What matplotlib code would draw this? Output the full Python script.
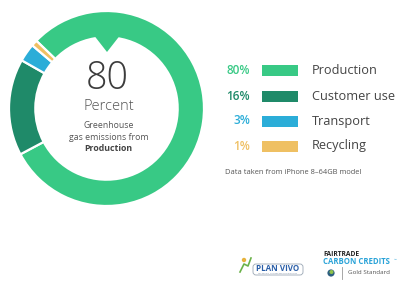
#!/usr/bin/env python3
"""Donut chart: greenhouse gas emissions of an iPhone 8 by life-cycle stage."""

import matplotlib
matplotlib.use('Agg')
import matplotlib.pyplot as plt
from matplotlib.patches import Polygon, Rectangle, FancyBboxPatch, Circle

plt.rcParams['font.family'] = ['Open Sans', 'DejaVu Sans']

# ---------------------------------------------------------------------------
# Data
# ---------------------------------------------------------------------------
stages = ['Production', 'Customer use', 'Transport', 'Recycling']
shares = [80, 16, 3, 1]
colors = ['#38C985', '#1F8A69', '#2BADD8', '#EFC063']
pct_labels = ['80%', '16%', '3%', '1%']

# ---------------------------------------------------------------------------
# Plot (axes in pixel units, origin bottom-left)
# ---------------------------------------------------------------------------
W, H = 398, 285
fig = plt.figure(figsize=(W / 100, H / 100), dpi=100)
ax = fig.add_axes([0, 0, 1, 1])

cx, cy, r = 106.5, H - 108.5, 97.5
ax.pie(shares, colors=colors, startangle=136, counterclock=False,
       center=(cx, cy), radius=r,
       wedgeprops=dict(width=r * 0.27, edgecolor='white', linewidth=1.6))

# small pointer notch on the inner edge of the ring
ax.add_patch(Polygon([(cx - 12, H - 36), (cx + 13, H - 36), (cx + 0.5, H - 52)],
                     closed=True, facecolor=colors[0], edgecolor='none', zorder=3))

# centre text
ax.text(cx + 0.5, H - 79, '80', ha='center', va='center', fontsize=27,
        fontweight='light', color='#3c3c3c')
ax.text(cx + 2, H - 107, 'Percent', ha='center', va='center', fontsize=10.5,
        fontweight='light', color='#555555')
ax.text(cx + 2, H - 125, 'Greenhouse', ha='center', va='center', fontsize=6.3,
        color='#555555')
ax.text(cx + 2, H - 137, 'gas emissions from', ha='center', va='center',
        fontsize=6.3, color='#555555')
ax.text(cx + 2, H - 148.5, 'Production', ha='center', va='center', fontsize=6.3,
        fontweight='bold', color='#444444')

# legend
row_y = [70, 96, 121, 146]
for y, lab, pct, col in zip(row_y, stages, pct_labels, colors):
    ax.text(250, H - y, pct, ha='right', va='center', fontsize=8.5,
            fontweight='semibold', color=col)
    ax.add_patch(Rectangle((262, H - y - 5.5), 36, 11, facecolor=col,
                           edgecolor='none'))
    ax.text(312, H - y, lab, ha='left', va='center', fontsize=9.2,
            color='#444444')

ax.text(225, H - 172, 'Data taken from iPhone 8\u201364GB model', ha='left',
        va='center', fontsize=5.4, color='#555555')

# logos (text only)
ax.add_patch(FancyBboxPatch((253, H - 275), 50, 11,
                            boxstyle='round,pad=0,rounding_size=3',
                            facecolor='white', edgecolor='#9aa6b4', linewidth=0.6))
ax.text(278, H - 268.5, 'PLAN VIVO', ha='center', va='center', fontsize=5.8,
        fontweight='bold', color='#2a5ea8')
ax.text(278, H - 273, 'for people, climate and communities', ha='center',
        va='center', fontsize=1.6, color='#7a8aa0')
ax.plot([240, 244, 248, 251], [H - 272, H - 264, H - 266, H - 258],
        color='#6bb24a', linewidth=1.2)
ax.add_patch(Circle((244, H - 260), 2.2, facecolor='#e7b23c', edgecolor='none'))

ax.text(323, H - 255, 'FAIRTRADE', ha='left', va='center', fontsize=4.8,
        fontweight='bold', color='#222222')
ax.text(323, H - 262, 'CARBON CREDITS', ha='left', va='center', fontsize=5.6,
        fontweight='bold', color='#2aa3d8')
ax.text(394, H - 260, '\u2122', ha='left', va='center', fontsize=2.5,
        color='#2aa3d8')
ax.add_patch(Circle((331, H - 273), 3.6, facecolor='#2d5f80', edgecolor='none'))
ax.add_patch(Circle((331.5, H - 272), 2.0, facecolor='#8fc34a', edgecolor='none'))
ax.plot([342, 342], [H - 279, H - 267], color='#999999', linewidth=0.6)
ax.text(348, H - 273, 'Gold Standard', ha='left', va='center', fontsize=4.5,
        color='#555555')

ax.set_xlim(0, W)
ax.set_ylim(0, H)
ax.set_aspect('equal')
ax.axis('off')

fig.savefig('out.png', dpi=100, facecolor='white')
plt.close(fig)
